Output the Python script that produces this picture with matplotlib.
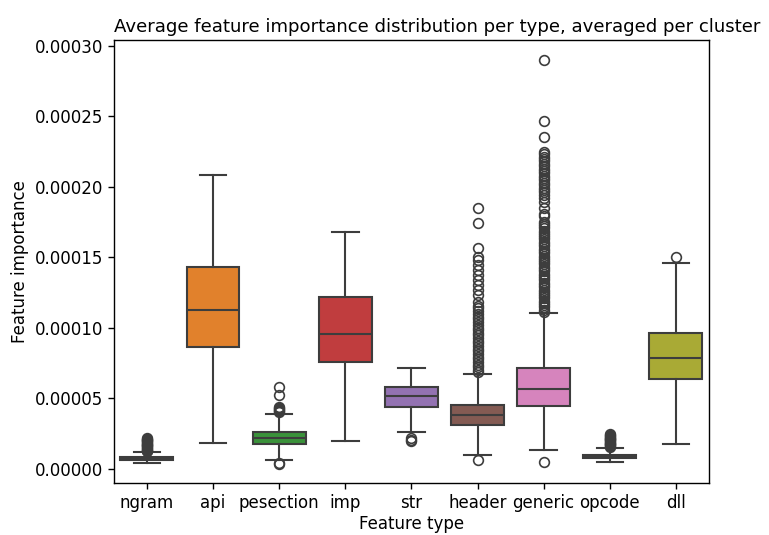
import matplotlib
matplotlib.use('Agg')
import matplotlib.pyplot as plt
from matplotlib.ticker import MultipleLocator, FormatStrFormatter
import seaborn as sns

# box statistics per feature type, values in units of 1e-5
types = ['ngram', 'api', 'pesection', 'imp', 'str', 'header', 'generic', 'opcode', 'dll']
q1 = [0.66, 8.65, 1.75, 7.57, 4.40, 3.12, 4.47, 0.78, 6.36]
med = [0.76, 11.30, 2.18, 9.60, 5.15, 3.83, 5.67, 0.90, 7.87]
q3 = [0.86, 14.35, 2.60, 12.22, 5.82, 4.54, 7.19, 1.02, 9.67]
whislo = [0.40, 1.84, 0.64, 2.00, 2.62, 1.02, 1.32, 0.50, 1.77]
whishi = [1.20, 20.83, 3.88, 16.83, 7.19, 6.70, 11.04, 1.50, 14.59]

fliers_ngram = [1.25, 1.31, 1.36, 1.42, 1.49, 1.55, 1.6, 1.67, 1.73, 1.78,
                1.85, 1.9, 1.96, 2.02, 2.07, 2.12, 2.17]
fliers_api = []
fliers_pesection = [0.35, 0.45, 4.05, 4.12, 4.2, 4.27, 4.35, 4.42, 5.25, 5.84]
fliers_imp = []
fliers_str = [1.95, 2.08, 2.22]
fliers_header = [0.64, 6.88, 7.05, 7.22, 7.4, 7.61, 7.8, 7.97, 8.15, 8.36, 8.52,
                 8.7, 8.93, 9.1, 9.27, 9.48, 9.66, 9.85, 10.02, 10.23, 10.4,
                 10.61, 10.8, 10.98, 11.17, 11.4, 11.58, 11.87, 12.34, 12.7,
                 13.05, 13.4, 13.76, 14.1, 14.47, 14.8, 15.06, 15.65, 17.42,
                 18.49]
fliers_generic = [0.52, 11.15, 11.3, 11.46, 11.6, 11.78, 11.93, 12.1, 12.24,
                  12.41, 12.57, 12.72, 12.9, 13.04, 13.2, 13.37, 13.52, 13.7,
                  13.85, 14.0, 14.18, 14.33, 14.5, 14.66, 14.81, 14.98, 15.13,
                  15.3, 15.46, 15.62, 15.78, 15.94, 16.1, 16.27, 16.42, 16.6,
                  16.75, 16.9, 17.07, 17.22, 17.4, 17.54, 17.95, 18.1, 18.5,
                  18.96, 19.2, 19.43, 19.6, 19.78, 19.95, 20.1, 20.28, 20.45,
                  20.6, 20.8, 20.96, 21.12, 21.3, 21.48, 21.63, 21.8, 21.97,
                  22.15, 22.3, 22.5, 23.5, 24.68, 28.99]
fliers_opcode = [1.56, 1.62, 1.68, 1.74, 1.8, 1.86, 1.92, 1.97, 2.03, 2.1,
                 2.16, 2.22, 2.28, 2.34, 2.4, 2.46]
fliers_dll = [15.06]

fliers = [fliers_ngram, fliers_api, fliers_pesection, fliers_imp, fliers_str,
          fliers_header, fliers_generic, fliers_opcode, fliers_dll]

scale = 1e-5
stats = []
for i, name in enumerate(types):
    stats.append({
        'label': name,
        'q1': q1[i] * scale,
        'med': med[i] * scale,
        'q3': q3[i] * scale,
        'whislo': whislo[i] * scale,
        'whishi': whishi[i] * scale,
        'fliers': [f * scale for f in fliers[i]],
    })

colors = [sns.desaturate(c, 0.75) for c in sns.color_palette('tab10', 9)]
line = (0.24, 0.24, 0.24)
lw = 1.5

plt.rcParams['font.size'] = 12
plt.rcParams['axes.linewidth'] = 1.0
plt.rcParams['xtick.major.size'] = 4.2
plt.rcParams['ytick.major.size'] = 4.2
plt.rcParams['xtick.major.width'] = 1.0
plt.rcParams['ytick.major.width'] = 1.0

fig = plt.figure(figsize=(7.69, 5.35), dpi=100)
ax = fig.add_axes([0.148, 0.097, 0.774, 0.828])

bp = ax.bxp(stats, positions=range(len(types)), widths=0.8, patch_artist=True,
            capwidths=0.4,
            boxprops=dict(edgecolor=line, linewidth=lw),
            medianprops=dict(color=line, linewidth=lw),
            whiskerprops=dict(color=line, linewidth=lw),
            capprops=dict(color=line, linewidth=lw),
            flierprops=dict(marker='o', markerfacecolor='none',
                            markeredgecolor=line, markersize=7,
                            markeredgewidth=1.2))
for patch, c in zip(bp['boxes'], colors):
    patch.set_facecolor(c)

ax.set_xlim(-0.5, len(types) - 0.5)
ax.set_ylim(-1.0e-5, 30.4e-5)
ax.yaxis.set_major_locator(MultipleLocator(5e-5))
ax.yaxis.set_major_formatter(FormatStrFormatter('%.5f'))
ax.set_xlabel('Feature type', labelpad=2)
ax.set_ylabel('Feature importance')
ax.set_title('Average feature importance distribution per type, averaged per cluster',
             fontsize=13.1, pad=6, x=0.544)

plt.savefig('out.png', dpi=100)
